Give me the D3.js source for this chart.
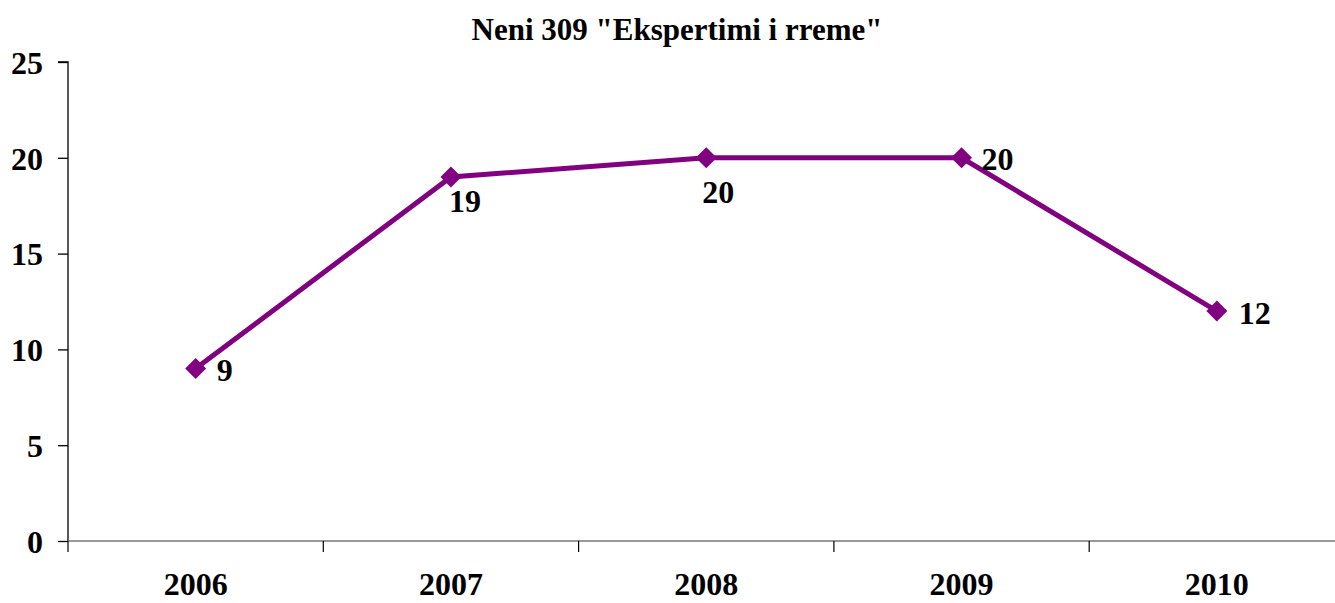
<!DOCTYPE html>
<html><head><meta charset="utf-8">
<script src="https://cdn.jsdelivr.net/npm/d3@7"></script>
<style>body{margin:0;background:#fff}svg{display:block}text{font-family:"Liberation Serif","Times New Roman",serif;font-weight:bold;fill:#000}</style>
</head><body><svg id="c" width="1335" height="603"></svg>
<script>
const title = 'Neni 309 "Ekspertimi i rreme"';
const years = ["2006","2007","2008","2009","2010"];
const values = [9,19,20,20,12];
const yTicks = [0,5,10,15,20,25];
// label placement: dx, dy relative to point
const labelPos = [[29,12],[14,35],[12,45],[36,12],[38,13]];

(function(){
const svg = d3.select("#c");
const pL = 68, pR = 1344.5, pT = 62, pB = 541;
const x = d3.scaleBand().domain(years).range([pL,pR]).padding(0);
const y = d3.scaleLinear().domain([0,25]).range([pB,pT]);

svg.append("text").attr("x",677).attr("y",40).attr("text-anchor","middle").style("font-size","31px").text(title);

// y axis
const ya = svg.append("g").attr("transform",`translate(${pL},0)`)
  .call(d3.axisLeft(y).tickValues(yTicks).tickSize(10).tickPadding(15).tickFormat(d3.format("d")));
ya.select(".domain").attr("stroke","#000").attr("stroke-width",1.3).attr("d",`M-10,${pT}H0V${pB}`);
ya.selectAll(".tick line").attr("stroke","#000").attr("stroke-width",1.3);
ya.selectAll(".tick text").style("font-size","32px").attr("dy","0.35em").attr("font-family",null);

// x axis
const xa = svg.append("g").attr("transform",`translate(0,${pB})`)
  .call(d3.axisBottom(x).tickSize(0).tickPadding(31));
xa.select(".domain").attr("stroke","#777").attr("stroke-width",1.5).attr("d",`M${pL},0H${pR}`);
xa.selectAll(".tick text").style("font-size","32px").attr("font-family",null);
const bounds = years.map(d=>x(d)).concat([pR]);
svg.append("g").selectAll("line").data(bounds).join("line")
  .attr("x1",d=>d).attr("x2",d=>d).attr("y1",pB).attr("y2",pB+11)
  .attr("stroke","#000").attr("stroke-width",1.2);

const pts = years.map((d,i)=>[x(d)+x.bandwidth()/2, y(values[i])]);
svg.append("path").attr("d",d3.line()(pts)).attr("fill","none").attr("stroke","#800080").attr("stroke-width",5);
svg.append("g").selectAll("path").data(pts).join("path")
  .attr("transform",d=>`translate(${d[0]},${d[1]})`)
  .attr("d",d3.symbol(d3.symbolDiamond2,280)()).attr("fill","#800080");
svg.append("g").selectAll("text").data(values).join("text")
  .attr("x",(d,i)=>pts[i][0]+labelPos[i][0]).attr("y",(d,i)=>pts[i][1]+labelPos[i][1])
  .attr("text-anchor","middle").style("font-size","32px").text(d=>d);
})();
</script></body></html>
